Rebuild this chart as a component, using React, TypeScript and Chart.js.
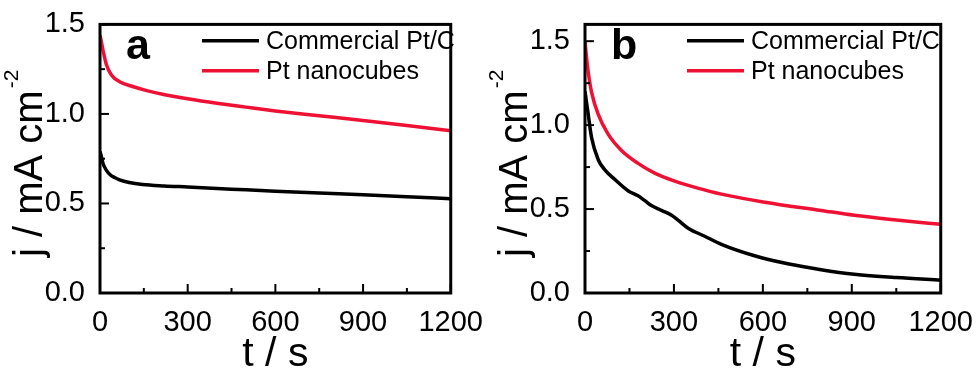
import React, { useEffect, useRef } from "react";
import { Chart, registerables } from "chart.js";
Chart.register(...registerables);

// ---------- data ----------
const SERIES_LABELS = ["Commercial Pt/C", "Pt nanocubes"];
const SERIES_COLORS = ["#000000", "#ee1133"];
const X_TICKS = [0, 300, 600, 900, 1200];
const Y_TICKS = [0, 0.5, 1.0, 1.5];
const X_TITLE = "t / s";
const Y_TITLE = "j / mA cm";
const Y_TITLE_SUP = "-2";

// panel a
const T_A_PTC = [0, 5, 11, 22, 34, 50, 67, 100, 146, 220, 300, 450, 600, 750, 900, 1050, 1200];
const J_A_PTC = [0.79, 0.76, 0.72, 0.685, 0.662, 0.645, 0.632, 0.617, 0.606, 0.598, 0.592, 0.58, 0.568, 0.558, 0.549, 0.538, 0.526];
const T_A_CUBE = [0, 5, 11, 22, 39, 67, 112, 160, 214, 300, 400, 500, 600, 750, 900, 1050, 1200];
const J_A_CUBE = [1.44, 1.4, 1.35, 1.275, 1.218, 1.18, 1.153, 1.13, 1.11, 1.085, 1.06, 1.038, 1.017, 0.99, 0.963, 0.935, 0.906];

// panel b
const T_B_PTC = [0, 4, 11, 22, 45, 67, 101, 146, 179, 202, 224, 258, 292, 314, 348, 404, 460, 572, 684, 796, 908, 1050, 1200];
const J_B_PTC = [1.2, 1.15, 1.062, 0.927, 0.792, 0.734, 0.676, 0.608, 0.579, 0.55, 0.521, 0.492, 0.463, 0.434, 0.386, 0.338, 0.29, 0.222, 0.174, 0.139, 0.112, 0.092, 0.077];
const T_B_CUBE = [0, 3, 11, 22, 45, 78, 123, 179, 235, 303, 380, 460, 606, 796, 908, 1050, 1200];
const J_B_CUBE = [1.5, 1.44, 1.313, 1.197, 1.062, 0.946, 0.849, 0.772, 0.714, 0.666, 0.625, 0.589, 0.541, 0.492, 0.463, 0.435, 0.409];

const FONT = 'Arial, "Liberation Sans", sans-serif';

const toPts = (t: number[], j: number[]) => t.map((x, i) => ({ x, y: j[i] }));

const decorPlugin = {
  id: "decor",
  afterDraw(chart: any, _args: any, opts: any) {
    const { ctx, chartArea: a, scales } = chart;
    const xs = scales.x;
    const ys = scales.y;
    ctx.save();
    ctx.strokeStyle = "#000";
    ctx.fillStyle = "#000";
    // frame
    ctx.lineWidth = 3;
    ctx.strokeRect(a.left, a.top, a.right - a.left, a.bottom - a.top);
    // ticks (inward)
    ctx.lineWidth = 2;
    const line = (x1: number, y1: number, x2: number, y2: number) => {
      ctx.beginPath();
      ctx.moveTo(x1, y1);
      ctx.lineTo(x2, y2);
      ctx.stroke();
    };
    const xMinor: number[] = [];
    for (let i = 0; i < X_TICKS.length - 1; i++) xMinor.push((X_TICKS[i] + X_TICKS[i + 1]) / 2);
    X_TICKS.forEach((v) => {
      const x = xs.getPixelForValue(v);
      line(x, a.bottom, x, a.bottom - 9);
    });
    xMinor.forEach((v) => {
      const x = xs.getPixelForValue(v);
      line(x, a.bottom, x, a.bottom - 5);
    });
    const yMinor: number[] = [];
    for (let i = 0; i < Y_TICKS.length - 1; i++) yMinor.push((Y_TICKS[i] + Y_TICKS[i + 1]) / 2);
    Y_TICKS.forEach((v) => {
      const y = ys.getPixelForValue(v);
      line(a.left, y, a.left + 9, y);
    });
    yMinor.forEach((v) => {
      const y = ys.getPixelForValue(v);
      line(a.left, y, a.left + 5, y);
    });

    // panel letter
    ctx.font = `bold 43px ${FONT}`;
    ctx.textAlign = "left";
    ctx.textBaseline = "alphabetic";
    ctx.fillText(opts.letter, a.left + 26, 59);

    // legend
    chart.data.datasets.forEach((ds: any, i: number) => {
      const y = 40.7 + i * 30;
      ctx.strokeStyle = ds.borderColor;
      ctx.lineWidth = 3.5;
      line(a.left + 102, y, a.left + 159, y);
      ctx.fillStyle = "#000";
      ctx.font = `25px ${FONT}`;
      ctx.textBaseline = "middle";
      ctx.fillText(ds.label, a.left + 166, y + 1);
    });

    // x title
    ctx.fillStyle = "#000";
    ctx.font = `41px ${FONT}`;
    ctx.textAlign = "center";
    ctx.textBaseline = "alphabetic";
    ctx.fillText(X_TITLE, (a.left + a.right) / 2, 366);

    // y title (rotated) with superscript
    ctx.save();
    ctx.translate(a.left - 58, 257);
    ctx.rotate(-Math.PI / 2);
    ctx.textAlign = "left";
    ctx.font = `40px ${FONT}`;
    ctx.fillText(Y_TITLE, 0, 0);
    const w = ctx.measureText(Y_TITLE).width;
    ctx.font = `21px ${FONT}`;
    ctx.fillText(Y_TITLE_SUP, w + 2, -24);
    ctx.restore();

    ctx.restore();
  },
};

type PanelProps = {
  left: number;
  width: number;
  yAxisWidth: number;
  rightPad: number;
  yMax: number;
  letter: string;
  tPtc: number[];
  jPtc: number[];
  tCube: number[];
  jCube: number[];
};

function Panel(p: PanelProps) {
  const ref = useRef<HTMLCanvasElement | null>(null);
  useEffect(() => {
    if (!ref.current) return;
    const tickFont = { family: FONT, size: 29 };
    const chart = new Chart(ref.current, {
      type: "line",
      data: {
        datasets: [
          {
            label: SERIES_LABELS[0],
            data: toPts(p.tPtc, p.jPtc),
            borderColor: SERIES_COLORS[0],
            borderWidth: 3.5,
            pointRadius: 0,
            cubicInterpolationMode: "monotone",
            fill: false,
          },
          {
            label: SERIES_LABELS[1],
            data: toPts(p.tCube, p.jCube),
            borderColor: SERIES_COLORS[1],
            borderWidth: 3.5,
            pointRadius: 0,
            cubicInterpolationMode: "monotone",
            fill: false,
          },
        ],
      },
      options: {
        responsive: false,
        animation: false,
        devicePixelRatio: 1,
        layout: { padding: { top: 16, right: p.rightPad, left: 0, bottom: 0 } },
        scales: {
          x: {
            type: "linear",
            min: 0,
            max: 1200,
            grid: { display: false },
            border: { display: false },
            afterBuildTicks: (s: any) => {
              s.ticks = X_TICKS.map((v) => ({ value: v }));
            },
            afterFit: (s: any) => {
              s.height = 80;
            },
            ticks: {
              font: tickFont,
              color: "#000",
              padding: 5,
              maxRotation: 0,
              autoSkip: false,
              callback: (v: any) => String(v),
            },
          },
          y: {
            type: "linear",
            min: 0,
            max: p.yMax,
            grid: { display: false },
            border: { display: false },
            afterBuildTicks: (s: any) => {
              s.ticks = Y_TICKS.map((v) => ({ value: v }));
            },
            afterFit: (s: any) => {
              s.width = p.yAxisWidth;
            },
            ticks: {
              font: tickFont,
              color: "#000",
              padding: 7,
              autoSkip: false,
              callback: (v: any) => Number(v).toFixed(1),
            },
          },
        },
        plugins: {
          legend: { display: false },
          tooltip: { enabled: false },
          decor: { letter: p.letter },
        } as any,
      },
      plugins: [decorPlugin],
    } as any);
    return () => chart.destroy();
  }, []);
  return (
    <canvas
      ref={ref}
      width={p.width}
      height={373}
      style={{ position: "absolute", left: p.left, top: 0, width: p.width, height: 373 }}
    />
  );
}

export default function App() {
  return (
    <div style={{ position: "absolute", left: 0, top: 0, width: 978, height: 373, background: "#fff", overflow: "hidden" }}>
      <Panel left={0} width={488} yAxisWidth={100} rightPad={32} yMax={1.5} letter="a"
        tPtc={T_A_PTC} jPtc={J_A_PTC} tCube={T_A_CUBE} jCube={J_A_CUBE} />
      <Panel left={488} width={490} yAxisWidth={97} rightPad={37} yMax={1.6} letter="b"
        tPtc={T_B_PTC} jPtc={J_B_PTC} tCube={T_B_CUBE} jCube={J_B_CUBE} />
    </div>
  );
}
